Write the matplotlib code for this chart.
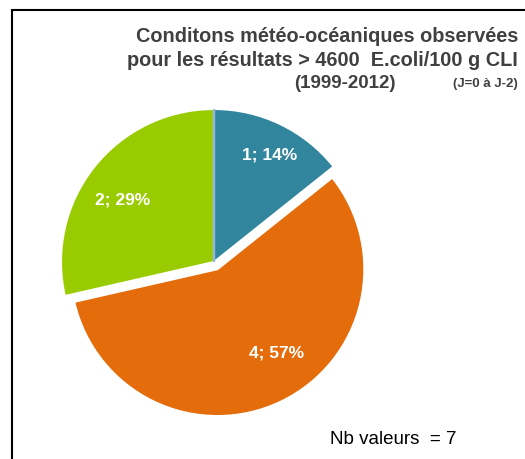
import matplotlib.pyplot as plt
from matplotlib.patches import Rectangle

# Data
counts = [1, 4, 2, 0]
colors = ['#31859C', '#E46C0A', '#99CC00', '#95B3E8']
explode_frac = [0, 0.052, 0, 0]
total = sum(counts)

title_lines = ['Conditons météo-océaniques observées',
               'pour les résultats > 4600  E.coli/100 g CLI']
title_years = '(1999-2012)'
title_days = '(J=0 à J-2)'
note = 'Nb valeurs  = 7'

W, H = 525, 459
fig = plt.figure(figsize=(W / 100, H / 100), dpi=100)
plt.rcParams['font.family'] = ['Liberation Sans', 'DejaVu Sans']

# outer frame (cropped on the right and bottom)
fig.patches.append(Rectangle((12 / W, -0.1), 1.2, (H - 10) / H + 0.1,
                             transform=fig.transFigure, fill=False,
                             edgecolor='black', linewidth=1.5))

ax = fig.add_axes([0, 0, 1, 1])


def fmt(pct):
    v = int(round(pct * total / 100))
    if v == 0:
        return ''
    return f'{v}; {pct:.0f}%'


cx, cy, r = 214, H - 262, 153
# pie's explode is in data units, so scale it by the radius
explode = [e * r for e in explode_frac]
wedges, texts, autotexts = ax.pie(counts, colors=colors, explode=explode,
                                  startangle=90, counterclock=False,
                                  center=(cx, cy), radius=r,
                                  autopct=fmt, pctdistance=0.76,
                                  wedgeprops=dict(edgecolor='white', linewidth=1.5))
# orange slice drawn a bit smaller, as in the source
wedges[1].set_radius(r * 0.96)
# zero-size slice shows only as a thin line
wedges[3].set_edgecolor(colors[3])
wedges[3].set_linewidth(1.6)
wedges[3].set_zorder(5)

# nudge labels to where the source puts them
nudges = [(5, 2), (9, 21), (0, -10), (0, 0)]
for t, (dx, dy) in zip(autotexts, nudges):
    t.set_color('white')
    t.set_fontweight('bold')
    t.set_fontsize(12.5)
    x, y = t.get_position()
    t.set_position((x + dx, y + dy))

ax.set_xlim(0, W)
ax.set_ylim(0, H)
ax.set_aspect('auto')
ax.axis('off')

# title
tcol = '#404040'
fig.text(518 / W, 1 - 37 / H, title_lines[0], ha='right', va='center',
         fontsize=14.3, fontweight='bold', color=tcol)
fig.text(518 / W, 1 - 60 / H, title_lines[1], ha='right', va='center',
         fontsize=14.3, fontweight='bold', color=tcol)
fig.text(396 / W, 1 - 83 / H, title_years, ha='right', va='center',
         fontsize=13.5, fontweight='bold', color=tcol)
fig.text(518 / W, 1 - 84 / H, title_days, ha='right', va='center',
         fontsize=9.5, fontweight='bold', color=tcol)

fig.text(330 / W, 1 - 439 / H, note, ha='left', va='center',
         fontsize=13.5, color='black')

plt.savefig('out.png', dpi=100)
